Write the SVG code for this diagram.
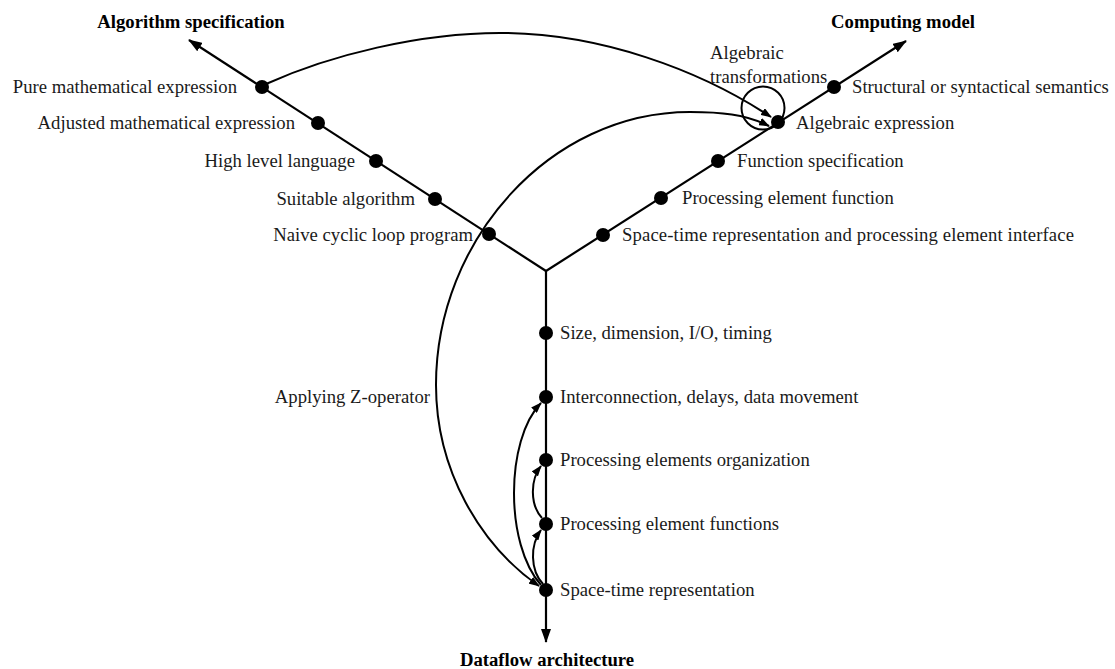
<svg xmlns="http://www.w3.org/2000/svg" width="1115" height="669" viewBox="0 0 1115 669">
<style>
text{font-family:"Liberation Serif","Times New Roman",serif;font-size:18.7px;fill:#1a1a1a}
.t{font-weight:bold;fill:#000}
.e{text-anchor:end}
.m{text-anchor:middle}
.ax{stroke:#000;stroke-width:2.2;fill:none}
.c{stroke:#000;stroke-width:2;fill:none}
.d{fill:#000}
</style>
<defs>
<marker id="big" viewBox="0 0 14 10" refX="13" refY="5" markerWidth="14" markerHeight="10" markerUnits="userSpaceOnUse" orient="auto"><path d="M0,0 L14,5 L0,10 Z" fill="#000"/></marker>
<marker id="sm" viewBox="0 0 11 8" refX="10" refY="4" markerWidth="11" markerHeight="8" markerUnits="userSpaceOnUse" orient="auto-start-reverse"><path d="M0,0 L11,4 L0,8 Z" fill="#000"/></marker>
</defs>
<g id="axes">
<line class="ax" x1="546" y1="271" x2="189" y2="40" marker-end="url(#big)"/>
<line class="ax" x1="546" y1="271" x2="906" y2="41" marker-end="url(#big)"/>
<line class="ax" x1="546" y1="271" x2="546" y2="642" marker-end="url(#big)"/>
</g>
<g id="connectors">
<path class="c" d="M266,84 C330,55 420,33 500,33 C600,33 700,70 771,117" marker-end="url(#sm)"/>
<path class="c" d="M769,126 C745,114 720,112 690,112 C550,112 436,240 436,385 C436,470 480,545 539,586" marker-start="url(#sm)" marker-end="url(#sm)"/>
<circle class="c" cx="763" cy="108" r="21.5"/>
<path class="c" d="M543,584 C530,570 530,545 541,530" marker-end="url(#sm)"/>
<path class="c" d="M542,518 C530,505 530,480 541,466" marker-end="url(#sm)"/>
<path class="c" d="M541,585 C505,545 505,440 541,403" marker-end="url(#sm)"/>
</g>
<g id="titles">
<text class="t m" x="191" y="28">Algorithm specification</text>
<text class="t m" x="903" y="28">Computing model</text>
<text class="t m" x="547" y="666">Dataflow architecture</text>
</g>
<g id="n-pure"><circle class="d" cx="262" cy="87" r="7"/><text class="e" x="237" y="93">Pure mathematical expression</text></g>
<g id="n-adjusted"><circle class="d" cx="318" cy="123" r="7"/><text class="e" x="295" y="129">Adjusted mathematical expression</text></g>
<g id="n-high"><circle class="d" cx="376" cy="161" r="7"/><text class="e" x="355" y="167">High level language</text></g>
<g id="n-suitable"><circle class="d" cx="435" cy="199" r="7"/><text class="e" x="415" y="205">Suitable algorithm</text></g>
<g id="n-naive"><circle class="d" cx="489" cy="234" r="7"/><text class="e" x="473" y="241">Naive cyclic loop program</text></g>
<g id="n-structural"><circle class="d" cx="834" cy="87" r="7"/><text x="852" y="93">Structural or syntactical semantics</text></g>
<g id="n-algebraic"><circle class="d" cx="778" cy="122" r="7"/><text x="796" y="129">Algebraic expression</text></g>
<g id="n-loop-label"><text x="710" y="59">Algebraic</text><text x="710" y="83">transformations</text></g>
<g id="n-function"><circle class="d" cx="718" cy="161" r="7"/><text x="737" y="167">Function specification</text></g>
<g id="n-pef"><circle class="d" cx="661" cy="198" r="7"/><text x="682" y="204">Processing element function</text></g>
<g id="n-stpe"><circle class="d" cx="603" cy="235" r="7"/><text x="622" y="241" textLength="452" lengthAdjust="spacing">Space-time representation and processing element interface</text></g>
<g id="n-size"><circle class="d" cx="546" cy="333" r="7"/><text x="560" y="339">Size, dimension, I/O, timing</text></g>
<g id="n-inter"><circle class="d" cx="546" cy="397" r="7"/><text x="560" y="403">Interconnection, delays, data movement</text></g>
<g id="n-peorg"><circle class="d" cx="546" cy="460" r="7"/><text x="560" y="466">Processing elements organization</text></g>
<g id="n-pefun"><circle class="d" cx="546" cy="524" r="7"/><text x="560" y="530">Processing element functions</text></g>
<g id="n-st"><circle class="d" cx="546" cy="590" r="7"/><text x="560" y="596">Space-time representation</text></g>
<g id="z-label"><text class="e" x="430" y="403">Applying Z-operator</text></g>
</svg>
